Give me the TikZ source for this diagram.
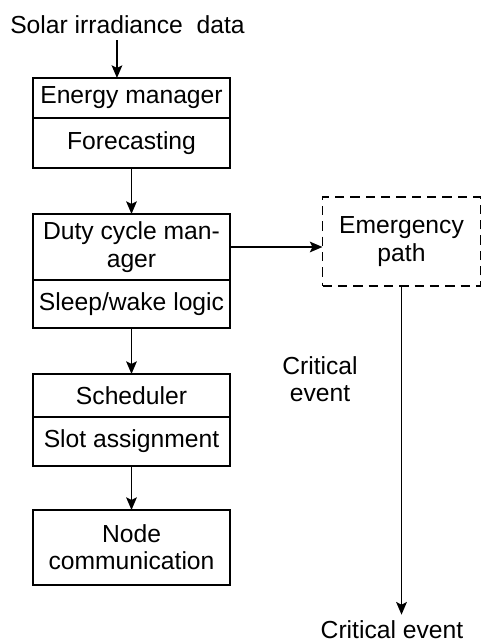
\documentclass[tikz,border=0pt]{standalone}
\usepackage{fontspec}
\setmainfont{Liberation Sans}
\usetikzlibrary{positioning,arrows.meta}

\tikzset{every picture/.style={line width=1.4pt}}
\tikzset{
  part/.style={draw, rectangle, minimum width=147.75pt, inner sep=0.75pt, outer sep=0pt,
               align=center, font=\fontsize{18.5}{20.5}\selectfont},
  caption/.style={inner sep=0.75pt, align=center, font=\fontsize{18.5}{20.5}\selectfont},
  flow/.style={-{Stealth[length=9.5pt,width=8pt,inset=2pt]}},
}

\begin{document}
\begin{tikzpicture}[x=0.75pt, y=0.75pt, yscale=-1,xscale=1]

    \useasboundingbox (0,0) rectangle (482,644);

    \node [caption, inner sep=4pt] (solar) at (127.5,25) {Solar irradiance\ \ data};

    % energy manager
    \node [part, minimum height=30pt] (energy) at (131.5,98) {Energy manager};
    \node [part, minimum height=37.5pt, below=0pt of energy] (forecast) {Forecasting};

    % duty cycle manager
    \node [part, minimum height=49.5pt] (duty) at (131.5,247) {Duty cycle man-\\ager};
    \node [part, minimum height=36pt, below=0pt of duty] (sleep) {Sleep/wake logic};

    % scheduler
    \node [part, minimum height=32.25pt] (sched) at (131.5,395.5) {Scheduler};
    \node [part, minimum height=36.75pt, below=0pt of sched] (slot) {Slot assignment};

    \node [part, minimum height=56.25pt] (comm) at (131.5,547.5) {Node\\communication};

    \node [part, dash pattern=on 7pt off 4.5pt, minimum width=118.5pt, minimum height=66.75pt]
          (emerg) at (401.5,241.5) {Emergency\\path};

    \node [caption] (critlbl) at (320,379) {Critical\\event};
    \node [caption, anchor=base] (critevt) at (392,638.5) {Critical event};

    \draw [flow] ([xshift=-7.9pt]solar.south) -- ([xshift=-7.9pt]solar.south |- energy.north);
    \draw [flow] (forecast) -- (duty);
    \draw [flow] (sleep) -- (sched);
    \draw [flow] (slot) -- (comm);
    \draw [flow] (duty.east) -- (duty.east -| emerg.west);
    \draw [flow, shorten >=3pt] (emerg.south) -- (emerg.south |- critevt.north);

\end{tikzpicture}
\end{document}
